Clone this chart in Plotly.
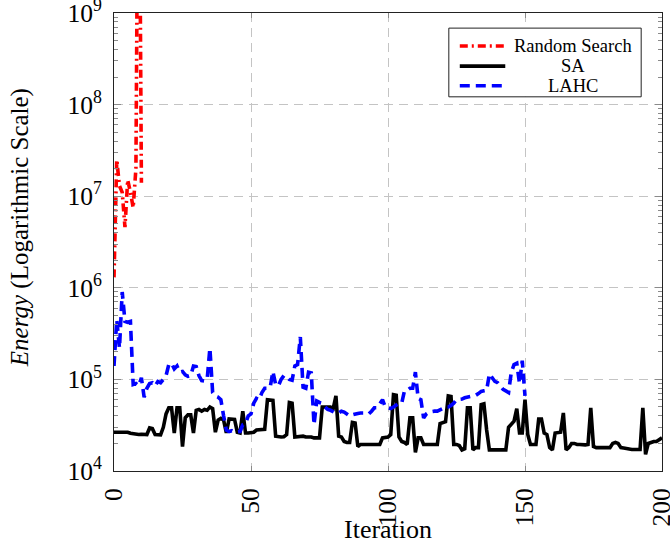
import plotly.graph_objects as go

# ---- data -------------------------------------------------------------
rs_iter = list(range(11))
random_search = [1.3e6, 2.5e7, 1.3e7, 1.1e7, 4.6e6, 1.5e7, 1.1e7, 7.5e6, 2.0e7, 1.0e12, 1.4e7]

sa_iter = list(range(201))
sa_energy = [
    26500, 26500, 26500, 26200, 26200, 26500, 25800, 25500, 25200, 25000,
    25200, 25000, 25000, 29500, 29000, 25000, 25000, 24800, 30000, 42000,
    49000, 49000, 26000, 49000, 49000, 18500, 38000, 41000, 41000, 26000,
    46000, 47000, 45000, 47000, 46000, 50000, 48000, 26500, 36000, 37500,
    36000, 26000, 37000, 37000, 36500, 26500, 26000, 45000, 26000, 26000,
    26500, 26500, 28000, 28000, 28000, 28500, 60000, 60000, 59000, 24000,
    23500, 23500, 23700, 25000, 56000, 55000, 23500, 23700, 23500, 24000,
    23500, 23700, 23500, 23000, 23200, 23000, 50000, 50000, 49000, 50000,
    48000, 66000, 24000, 23500, 21000, 20500, 20500, 34000, 33500, 18500,
    19500, 19500, 19400, 19500, 19300, 19500, 19400, 19500, 23000, 23000,
    23500, 25000, 68000, 67000, 23500, 21000, 20500, 19500, 38000, 38000,
    16000, 23000, 23000, 19500, 19500, 19400, 19500, 19500, 19500, 33000,
    34000, 34500, 66000, 65000, 19500, 19500, 19000, 17000, 17500, 49000,
    49000, 17000, 18000, 18000, 53000, 54000, 28000, 17000, 17000, 17000,
    17000, 17000, 17000, 17000, 30000, 33000, 35000, 48000, 26000, 26000,
    60000, 25000, 19500, 19500, 19500, 37000, 37000, 26000, 25000, 18000,
    17000, 26000, 26000, 26500, 43000, 17000, 18000, 20000, 20000, 19500,
    19500, 19300, 19300, 19500, 49000, 18500, 18000, 18000, 18000, 18000,
    17800, 18000, 20000, 20500, 20000, 18000, 17800, 17500, 17500, 17200,
    17200, 17200, 17200, 49000, 15200, 20000, 20500, 21000, 21000, 22000,
    23000,
]

lahc_iter = list(range(151))
lahc_energy = [
    140000, 450000, 220000, 900000, 430000, 420000, 430000, 88000, 90000, 85000,
    104000, 64000, 80000, 90000, 92000, 85000, 95000, 92000, 100000, 110000,
    145000, 150000, 130000, 140000, 120000, 122000, 112000, 108000, 110000, 140000,
    138000, 110000, 97000, 96000, 100000, 220000, 72000, 66000, 64000, 60000,
    40000, 28000, 27000, 27500, 26500, 27000, 27000, 32000, 33000, 40000,
    42000, 55000, 62000, 60000, 72000, 80000, 80000, 82000, 122000, 88000,
    85000, 100000, 110000, 108000, 100000, 98000, 140000, 145000, 290000, 82000,
    80000, 120000, 118000, 32000, 58000, 56000, 55000, 50000, 47000, 46000,
    44000, 43000, 43000, 45000, 44000, 42000, 40000, 41000, 42000, 42500,
    43000, 43000, 42000, 42000, 45000, 49000, 49000, 55000, 60000, 50000,
    49000, 48000, 50000, 52000, 55000, 55000, 75000, 76000, 80000, 80000,
    120000, 62000, 60000, 38000, 42000, 44000, 45000, 45000, 45000, 46000,
    48000, 50000, 50000, 52000, 55000, 60000, 60000, 61000, 63000, 64000,
    65000, 66000, 67000, 70000, 74000, 75000, 76000, 115000, 105000, 95000,
    92000, 85000, 78000, 75000, 72000, 120000, 145000, 150000, 90000, 160000,
    66000,
]

x_ticks = [0, 50, 100, 150, 200]
y_ticks = [1e4, 1e5, 1e6, 1e7, 1e8, 1e9]
y_tick_text = ["10<sup>%d</sup>" % e for e in range(4, 10)]

series_names = ["Random Search", "SA", "LAHC"]
series_colors = ["#ff0000", "#000000", "#0000ff"]
series_dash = ["8px,4px,2px,4px", "solid", "10px,6px"]

FONT = "Liberation Serif"

# ---- figure -----------------------------------------------------------
fig = go.Figure()
traces = [(rs_iter, random_search), (sa_iter, sa_energy), (lahc_iter, lahc_energy)]
for (xs, ys), name, col, dash in zip(traces, series_names, series_colors, series_dash):
    fig.add_trace(go.Scatter(
        x=xs, y=ys, mode="lines", name=name,
        line=dict(color=col, width=3.6, dash=dash),
        showlegend=False,
    ))

minor_vals = [k * 10 ** e for e in range(4, 9) for k in range(2, 10)]

axis_common = dict(
    showline=True, linecolor="#222", linewidth=1.2, mirror="allticks",
    ticks="inside", tickcolor="#8a8a8a", tickwidth=1,
    showgrid=True, gridcolor="#c4c4c4", gridwidth=1, griddash="9px,6px",
    zeroline=False, ticklabeloverflow="allow", automargin=False,
    tickfont=dict(family=FONT, size=25.5, color="black"),
)

fig.update_xaxes(
    range=[0, 200], tickmode="array", tickvals=x_ticks,
    ticktext=[str(v) for v in x_ticks], tickangle=-90, ticklen=5,
    ticklabelstandoff=6,
    **axis_common,
)
fig.update_yaxes(
    type="log", range=[4, 9], tickmode="array", tickvals=y_ticks,
    ticktext=y_tick_text, ticklen=7, ticklabelstandoff=6,
    minor=dict(ticks="inside", ticklen=4, tickcolor="#8a8a8a",
               tickmode="array", tickvals=minor_vals, showgrid=False),
    **axis_common,
)

# legend box drawn in paper space
shapes = [dict(type="rect", xref="paper", yref="paper",
               x0=0.611, x1=0.962, y0=0.817, y1=0.967,
               line=dict(color="#222", width=1), fillcolor="white", layer="above")]
annotations = []
row_y = [0.928, 0.884, 0.841]
for ry, name, col, dash in zip(row_y, series_names, series_colors, series_dash):
    shapes.append(dict(type="line", xref="paper", yref="paper",
                       x0=0.631, x1=0.714, y0=ry, y1=ry,
                       line=dict(color=col, width=3.6, dash=dash), layer="above"))
    annotations.append(dict(xref="paper", yref="paper", x=0.837, y=ry,
                            text=name, showarrow=False, xanchor="center",
                            yanchor="middle",
                            font=dict(family=FONT, size=18.5, color="black")))

annotations.append(dict(xref="paper", yref="paper", x=0.5, y=-0.128,
                        text="Iteration", showarrow=False,
                        xanchor="center", yanchor="middle",
                        font=dict(family=FONT, size=26, color="black")))
annotations.append(dict(xref="paper", yref="paper", x=-0.17, y=0.532,
                        text="<i>Energy</i> (Logarithmic Scale)", showarrow=False,
                        textangle=-90, xanchor="center", yanchor="middle",
                        font=dict(family=FONT, size=25, color="black")))

fig.update_layout(
    width=670, height=546,
    margin=dict(l=114, r=8, t=13, b=75, autoexpand=False),
    plot_bgcolor="white", paper_bgcolor="white",
    shapes=shapes, annotations=annotations,
    showlegend=False,
)

fig.write_html("out.html")
